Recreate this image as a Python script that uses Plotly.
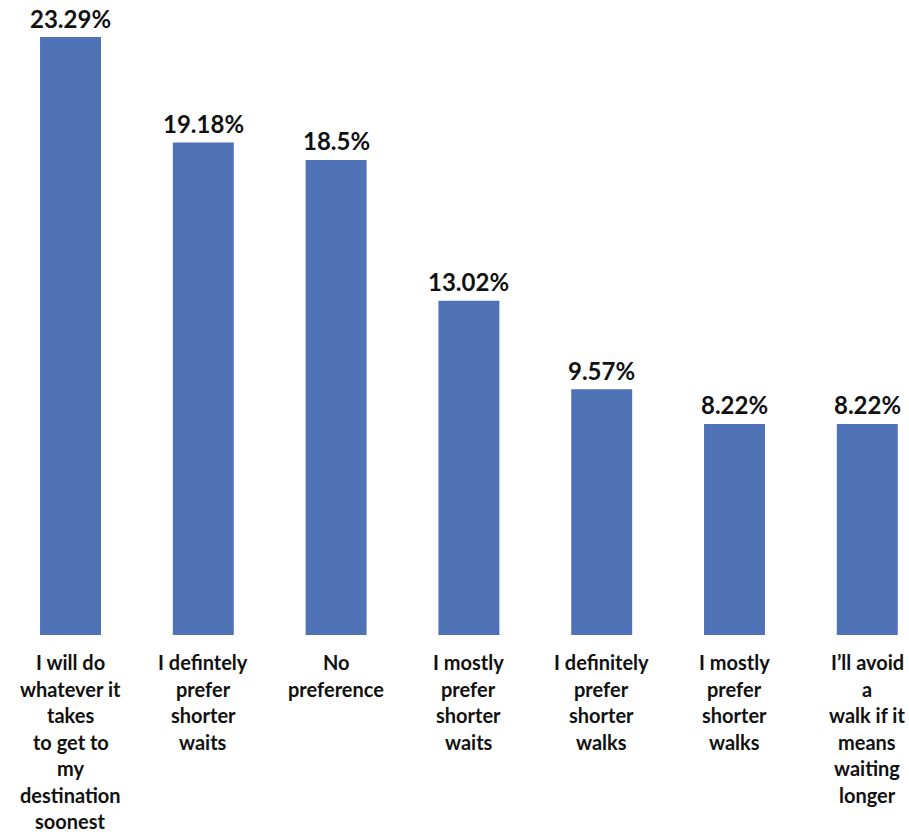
import plotly.graph_objects as go

categories = [
    ["I will do", "whatever it", "takes", "to get to", "my", "destination", "soonest"],
    ["I defintely", "prefer", "shorter", "waits"],
    ["No", "preference"],
    ["I mostly", "prefer", "shorter", "waits"],
    ["I definitely", "prefer", "shorter", "walks"],
    ["I mostly", "prefer", "shorter", "walks"],
    ["I\u2019ll avoid", "a", "walk if it", "means", "waiting", "longer"],
]
values = [23.29, 19.18, 18.5, 13.02, 9.57, 8.22, 8.22]
value_labels = ["23.29%", "19.18%", "18.5%", "13.02%", "9.57%", "8.22%", "8.22%"]

FONT = "Lato, 'Open Sans', sans-serif"
xs = list(range(len(values)))

fig = go.Figure()
fig.add_trace(go.Bar(
    x=xs, y=values, width=0.459,
    marker=dict(color="#4F71B6", line=dict(width=0)),
    hoverinfo="skip",
))

annotations = []
for i, (v, lab) in enumerate(zip(values, value_labels)):
    annotations.append(dict(
        x=i, xref="x", y=v, yref="y", yanchor="middle", xanchor="center",
        yshift=19, text="<b>" + lab + "</b>", showarrow=False,
        font=dict(family=FONT, size=24, color="#111111"),
    ))
for i, lines in enumerate(categories):
    for j, line in enumerate(lines):
        annotations.append(dict(
            x=i, xref="x", y=0, yref="paper", yanchor="middle", xanchor="center",
            yshift=-(27 + 26.5 * j), text="<b>" + line + "</b>", showarrow=False,
            font=dict(family=FONT, size=20, color="#111111"),
        ))

fig.update_layout(
    width=909, height=836,
    margin=dict(l=0, r=0, t=37, b=201),
    plot_bgcolor="white", paper_bgcolor="white",
    showlegend=False,
    xaxis=dict(range=[-0.531, 6.314], showticklabels=False, showgrid=False,
               zeroline=False, showline=False, ticks=""),
    yaxis=dict(range=[0, 23.29], showticklabels=False, showgrid=False,
               zeroline=False, showline=False, ticks=""),
    annotations=annotations,
)

fig.write_html("out.html", config={"displayModeBar": False})

with open("out.html", "r", encoding="utf-8") as f:
    html = f.read()
html = html.replace("<head>", "<head><style>html,body{margin:0;padding:0;overflow:hidden;}</style>", 1)
with open("out.html", "w", encoding="utf-8") as f:
    f.write(html)
